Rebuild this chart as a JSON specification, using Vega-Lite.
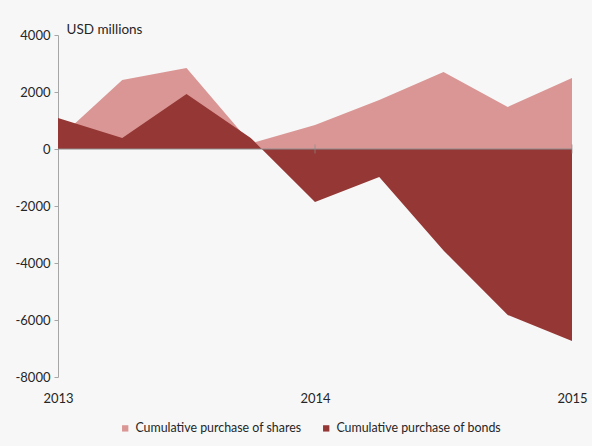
{
  "$schema": "https://vega.github.io/schema/vega-lite/v6.json",
  "width": 514,
  "height": 342,
  "autosize": {"type": "none"},
  "padding": {"left": 58, "top": 35, "right": 20, "bottom": 69},
  "background": "#f7f7f7",
  "config": {"view": {"stroke": null}, "font": "Lato", "axis": {"labelOverlap": false}},
  "datasets": {
    "flows": [
      {"t": 2013, "series": "Cumulative purchase of shares", "value": 350},
      {"t": 2013.25, "series": "Cumulative purchase of shares", "value": 2420},
      {"t": 2013.5, "series": "Cumulative purchase of shares", "value": 2840},
      {"t": 2013.75, "series": "Cumulative purchase of shares", "value": 200},
      {"t": 2014, "series": "Cumulative purchase of shares", "value": 840},
      {"t": 2014.25, "series": "Cumulative purchase of shares", "value": 1720},
      {"t": 2014.5, "series": "Cumulative purchase of shares", "value": 2700},
      {"t": 2014.75, "series": "Cumulative purchase of shares", "value": 1475},
      {"t": 2015, "series": "Cumulative purchase of shares", "value": 2490},
      {"t": 2013, "series": "Cumulative purchase of bonds", "value": 1090},
      {"t": 2013.25, "series": "Cumulative purchase of bonds", "value": 386},
      {"t": 2013.5, "series": "Cumulative purchase of bonds", "value": 1930},
      {"t": 2013.75, "series": "Cumulative purchase of bonds", "value": 390},
      {"t": 2014, "series": "Cumulative purchase of bonds", "value": -1860},
      {"t": 2014.25, "series": "Cumulative purchase of bonds", "value": -980},
      {"t": 2014.5, "series": "Cumulative purchase of bonds", "value": -3560},
      {"t": 2014.75, "series": "Cumulative purchase of bonds", "value": -5825},
      {"t": 2015, "series": "Cumulative purchase of bonds", "value": -6740}
    ]
  },
  "layer": [
    {
      "data": {"name": "flows"},
      "transform": [{"filter": "datum.series === 'Cumulative purchase of shares'"}],
      "mark": {"type": "area", "opacity": 1},
      "encoding": {
        "x": {
          "field": "t", "type": "quantitative",
          "scale": {"domain": [2013, 2015], "nice": false, "zero": false},
          "axis": {"values": [2013, 2014, 2015], "labelExpr": "'' + datum.value", "title": null, "domain": false, "ticks": false, "grid": false, "labelPadding": 15, "labelFontSize": 13, "labelColor": "#262626", "labelFlush": false, "labelOverlap": false}
        },
        "y": {
          "field": "value", "type": "quantitative", "stack": null,
          "scale": {"domain": [-8000, 4000], "nice": false},
          "axis": {"values": [-8000, -6000, -4000, -2000, 0, 2000, 4000], "grid": false, "labelExpr": "'' + datum.value", "domainColor": "#a6a6a6", "tickColor": "#a6a6a6", "tickSize": 4, "labelPadding": 4, "labelFontSize": 13, "labelColor": "#262626", "labelOverlap": false, "title": "USD millions", "titleAngle": 0, "titleAlign": "left", "titleBaseline": "alphabetic", "titleX": 8, "titleY": -2, "titleFontSize": 13.5, "titleFontWeight": "normal", "titleColor": "#262626"}
        },
        "color": {
          "field": "series", "type": "nominal",
          "scale": {"domain": ["Cumulative purchase of shares", "Cumulative purchase of bonds"], "range": ["#d99694", "#953735"]},
          "legend": {"orient": "none", "legendX": 61, "legendY": 387, "direction": "horizontal", "title": null, "symbolType": "square", "symbolSize": 40, "symbolStrokeWidth": 0, "labelFontSize": 12.4, "labelColor": "#262626", "labelLimit": 400, "labelOffset": 4, "columnPadding": 18}
        }
      }
    },
    {
      "data": {"name": "flows"},
      "transform": [{"filter": "datum.series === 'Cumulative purchase of bonds'"}],
      "mark": {"type": "area", "opacity": 1},
      "encoding": {
        "x": {"field": "t", "type": "quantitative"},
        "y": {"field": "value", "type": "quantitative", "stack": null},
        "color": {"field": "series", "type": "nominal"}
      }
    },
    {
      "data": {"values": [{"v": 0}]},
      "mark": {"type": "rule", "color": "#8c8c8c"},
      "encoding": {"y": {"field": "v", "type": "quantitative"}}
    },
    {
      "data": {"values": [{"t": 2014, "v": 0}, {"t": 2015, "v": 0}]},
      "mark": {"type": "tick", "orient": "vertical", "size": 9, "thickness": 1, "color": "#8c8c8c"},
      "encoding": {"x": {"field": "t", "type": "quantitative"}, "y": {"field": "v", "type": "quantitative"}}
    }
  ]
}
